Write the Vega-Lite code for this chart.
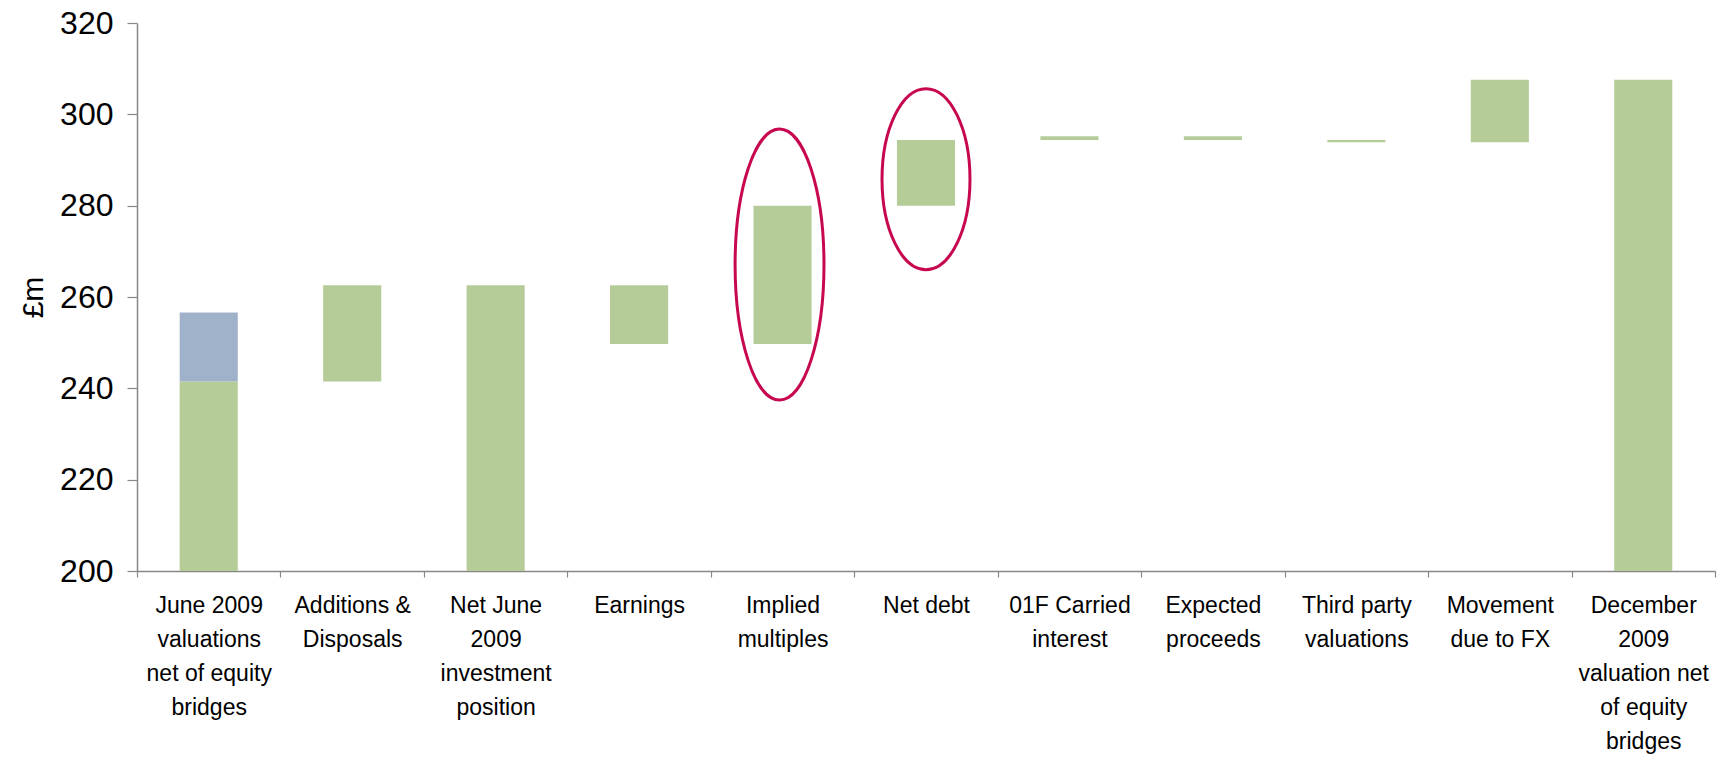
{
  "$schema": "https://vega.github.io/schema/vega-lite/v6.json",
  "autosize": "none",
  "width": 1578,
  "height": 548,
  "padding": {"left": 137, "top": 23, "right": 7, "bottom": 186},
  "background": "white",
  "config": {
    "view": {"stroke": null},
    "font": "Liberation Sans"
  },
  "datasets": {
    "bars": [
      {"category": "June 2009\nvaluations\nnet of equity\nbridges", "part": "Net", "start": 200, "end": 241.5},
      {"category": "June 2009\nvaluations\nnet of equity\nbridges", "part": "Equity bridges", "start": 241.5, "end": 256.6},
      {"category": "Additions &\nDisposals", "part": "Net", "start": 241.5, "end": 262.6},
      {"category": "Net June\n2009\ninvestment\nposition", "part": "Net", "start": 200, "end": 262.6},
      {"category": "Earnings", "part": "Net", "start": 249.7, "end": 262.6},
      {"category": "Implied\nmultiples", "part": "Net", "start": 249.7, "end": 280.0},
      {"category": "Net debt", "part": "Net", "start": 280.0, "end": 294.4},
      {"category": "01F Carried\ninterest", "part": "Net", "start": 294.4, "end": 295.2},
      {"category": "Expected\nproceeds", "part": "Net", "start": 294.4, "end": 295.2},
      {"category": "Third party\nvaluations", "part": "Net", "start": 293.9, "end": 294.4},
      {"category": "Movement\ndue to FX", "part": "Net", "start": 293.9, "end": 307.6},
      {"category": "December\n2009\nvaluation net\nof equity\nbridges", "part": "Net", "start": 200, "end": 307.6}
    ],
    "ellipses": [
      {"category": "Implied\nmultiples", "center": 267.1},
      {"category": "Net debt", "center": 285.8}
    ]
  },
  "layer": [
    {
      "data": {"name": "bars"},
      "mark": {"type": "bar", "width": {"band": 0.405}},
      "encoding": {
        "x": {
          "field": "category",
          "type": "nominal",
          "sort": null,
          "scale": {"paddingInner": 0, "paddingOuter": 0},
          "axis": {
            "title": null,
            "labelAngle": 0,
            "labelExpr": "split(datum.label, '\\n')",
            "labelFontSize": 23,
            "labelLineHeight": 34,
            "labelColor": "#000000",
            "labelPadding": 17,
            "labelLimit": 200,
            "tickBand": "extent",
            "tickSize": 6,
            "tickColor": "#888888",
            "domainColor": "#888888",
            "domainWidth": 1.5,
            "tickWidth": 1.2
          }
        },
        "y": {
          "field": "start",
          "type": "quantitative",
          "scale": {"domain": [200, 320], "nice": false, "zero": false},
          "axis": {
            "title": "£m",
            "titleFontSize": 30,
            "titleFontWeight": "normal",
            "titleColor": "#000000",
            "titleX": -95,
            "titleBaseline": "alphabetic",
            "values": [200, 220, 240, 260, 280, 300, 320],
            "grid": false,
            "labelFontSize": 32,
            "labelColor": "#000000",
            "labelPadding": 14,
            "tickSize": 10,
            "tickColor": "#888888",
            "domainColor": "#888888",
            "domainWidth": 1.5,
            "tickWidth": 1.2
          }
        },
        "y2": {"field": "end"},
        "color": {
          "field": "part",
          "type": "nominal",
          "scale": {"domain": ["Net", "Equity bridges"], "range": ["#B5CC98", "#A0B2CA"]},
          "legend": null
        }
      }
    },
    {
      "data": {"name": "ellipses"},
      "transform": [{"filter": "datum.category == 'Net debt'"}],
      "mark": {
        "type": "point",
        "filled": false,
        "stroke": "#C70851",
        "strokeWidth": 3,
        "opacity": 1,
        "size": 32761,
        "shape": "M 0,-1 C 0.2684,-1 0.486,-0.5523 0.486,0 C 0.486,0.5523 0.2684,1 0,1 C -0.2684,1 -0.486,0.5523 -0.486,0 C -0.486,-0.5523 -0.2684,-1 0,-1 Z"
      },
      "encoding": {
        "x": {"field": "category", "type": "nominal", "sort": null},
        "y": {"field": "center", "type": "quantitative"}
      }
    },
    {
      "data": {"name": "ellipses"},
      "transform": [{"filter": "datum.category != 'Net debt'"}],
      "mark": {
        "type": "point",
        "filled": false,
        "stroke": "#C70851",
        "strokeWidth": 3,
        "opacity": 1,
        "size": 73441,
        "xOffset": -3,
        "shape": "M 0,-1 C 0.1812,-1 0.328,-0.5523 0.328,0 C 0.328,0.5523 0.1812,1 0,1 C -0.1812,1 -0.328,0.5523 -0.328,0 C -0.328,-0.5523 -0.1812,-1 0,-1 Z"
      },
      "encoding": {
        "x": {"field": "category", "type": "nominal", "sort": null},
        "y": {"field": "center", "type": "quantitative"}
      }
    }
  ]
}
